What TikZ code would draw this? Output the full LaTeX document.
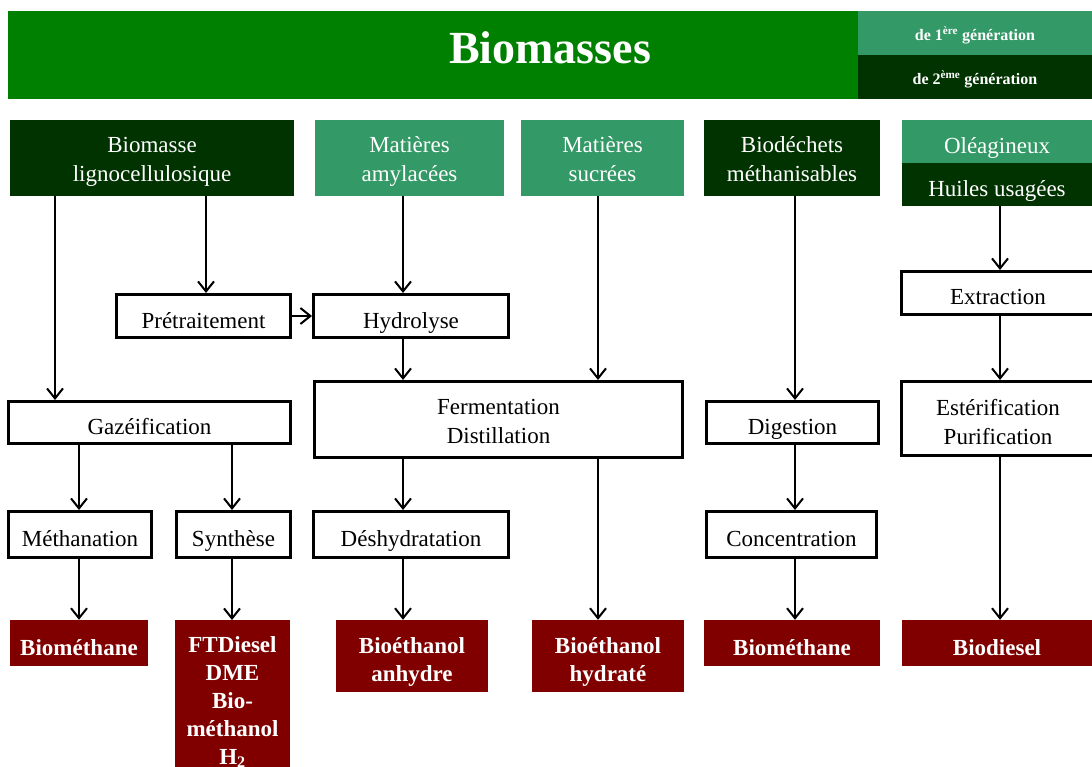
\documentclass[tikz,border=0pt]{standalone}
\usepackage{fontspec}
\setmainfont{Liberation Serif}
\usetikzlibrary{arrows.meta}
\definecolor{vert}{HTML}{008000}
\definecolor{vertclair}{HTML}{339966}
\definecolor{vertfonce}{HTML}{003300}
\definecolor{bordeaux}{HTML}{800000}
\begin{document}
\begin{tikzpicture}[
     x=1pt,y=-1pt,
     every node/.style={inner sep=0pt,align=center,font=\fontsize{23}{29}\selectfont},
     sz/.style 2 args={minimum width=#1pt,minimum height=#2pt},
     one/.style={text height=24pt,text depth=0pt},
     two/.style={text height=#1pt,text depth=5pt},
     srcd/.style={fill=vertfonce,text=white},
     srcl/.style={fill=vertclair,text=white},
     proc/.style={draw,line width=3pt,fill=white},
     prod/.style={fill=bordeaux,text=white,font=\fontsize{23}{28}\selectfont\bfseries},
     gen/.style={text=white,text height=15pt,text depth=0pt,font=\fontsize{16}{18}\selectfont\bfseries},
     arr/.style={-{Straight Barb[length=10pt,width=16pt]},line width=2pt}
   ]
   \clip (0,0) rectangle (1092,767);
   % Bandeau du haut.
   \node[fill=vert,sz={1084}{88},text=white,text height=32pt,text depth=14pt,
     font=\fontsize{46}{50}\selectfont\bfseries] (titre) at (550,55) {Biomasses};
   \node[gen,fill=vertclair,sz={234}{44}] (gen1) at (975,33) {de 1\textsuperscript{ère} génération};
   \node[gen,fill=vertfonce,sz={234}{44}] (gen2) at (975,77) {de 2\textsuperscript{ème} génération};
   % Ressources.
   \node[srcd,two=52,sz={284}{76}] (lig) at (152,158) {Biomasse\\lignocellulosique};
   \node[srcl,two=52,sz={189}{76}] (amy) at (409.5,158) {Matières\\amylacées};
   \node[srcl,two=52,sz={163}{76}] (suc) at (602.5,158) {Matières\\sucrées};
   \node[srcd,two=52,sz={176}{76}] (dech) at (792,158) {Biodéchets\\méthanisables};
   \node[srcl,one,sz={190}{43}] (ole) at (997,141.5) {Oléagineux};
   \node[srcd,one,sz={190}{43}] (huil) at (997,184.5) {Huiles usagées};
   % Procedes.
   \node[proc,one,sz={174}{43}] (pre) at (203.5,316) {Prétraitement};
   \node[proc,one,sz={195}{43}] (hyd) at (411,316) {Hydrolyse};
   \node[proc,one,sz={193}{43}] (ext) at (998,293) {Extraction};
   \node[proc,one,sz={282}{42}] (gaz) at (149.5,422.5) {Gazéification};
   \node[proc,two=52,sz={368}{76}] (fer) at (498.5,419.5) {Fermentation\\Distillation};
   \node[proc,one,sz={172}{42}] (dig) at (792.5,422.5) {Digestion};
   \node[proc,two=56,sz={193}{74}] (est) at (998,418.5) {Estérification\\Purification};
   \node[proc,one,sz={143}{46}] (mth) at (80,534.5) {Méthanation};
   \node[proc,one,sz={114}{46}] (syn) at (233.5,534.5) {Synthèse};
   \node[proc,one,sz={195}{46}] (des) at (411,534.5) {Déshydratation};
   \node[proc,one,sz={170}{46}] (con) at (791.5,534.5) {Concentration};
   % Produits.
   \node[prod,one,sz={138}{46}] (bm1) at (79,643) {Biométhane};
   \node[prod,minimum width=115pt,anchor=north,inner ysep=16pt] (ft) at (232.5,620)
     {FTDiesel\\DME\\Bio-\\méthanol\\H\textsubscript{2}};
   \node[prod,two=56,sz={152}{72}] (eth1) at (412,656) {Bioéthanol\\anhydre};
   \node[prod,two=56,sz={152}{72}] (eth2) at (608,656) {Bioéthanol\\hydraté};
   \node[prod,one,sz={176}{46}] (bm2) at (792,643) {Biométhane};
   \node[prod,one,sz={190}{46}] (bdi) at (997,643) {Biodiesel};
   % Colonnes des fleches.
   \coordinate (k1) at (55,0);
   \coordinate (k2) at (79,0);
   \coordinate (k3) at (206,0);
   \coordinate (k4) at (232,0);
   \coordinate (k5) at (403,0);
   \coordinate (k6) at (598,0);
   \coordinate (k7) at (795,0);
   \coordinate (k8) at (1000,0);
   \draw[arr] (lig.south -| k1) -- (gaz.north -| k1);
   \draw[arr] (lig.south -| k3) -- (pre.north -| k3);
   \draw[arr] (pre) -- (hyd);
   \draw[arr] (amy.south -| k5) -- (hyd.north -| k5);
   \draw[arr] (hyd.south -| k5) -- (fer.north -| k5);
   \draw[arr] (suc.south -| k6) -- (fer.north -| k6);
   \draw[arr] (gaz.south -| k2) -- (mth.north -| k2);
   \draw[arr] (gaz.south -| k4) -- (syn.north -| k4);
   \draw[arr] (mth.south -| k2) -- (bm1.north -| k2);
   \draw[arr] (syn.south -| k4) -- (ft.north -| k4);
   \draw[arr] (fer.south -| k5) -- (des.north -| k5);
   \draw[arr] (des.south -| k5) -- (eth1.north -| k5);
   \draw[arr] (fer.south -| k6) -- (eth2.north -| k6);
   \draw[arr] (dech.south -| k7) -- (dig.north -| k7);
   \draw[arr] (dig.south -| k7) -- (con.north -| k7);
   \draw[arr] (con.south -| k7) -- (bm2.north -| k7);
   \draw[arr] (huil.south -| k8) -- (ext.north -| k8);
   \draw[arr] (ext.south -| k8) -- (est.north -| k8);
   \draw[arr] (est.south -| k8) -- (bdi.north -| k8);
 \end{tikzpicture}
\end{document}
